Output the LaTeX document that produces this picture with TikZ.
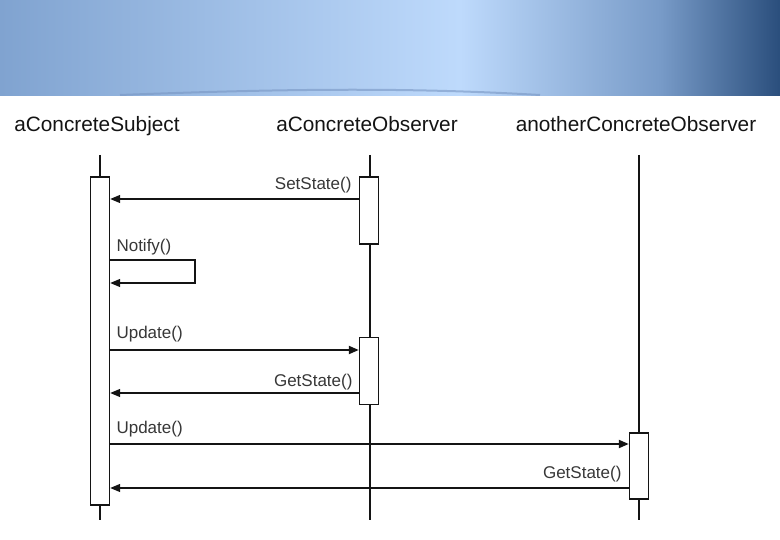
\documentclass[tikz,border=0pt]{standalone}
\usepackage{fontspec}
\setmainfont{Liberation Sans}
\usepackage{xcolor}
\usetikzlibrary{arrows.meta, positioning}
\definecolor{headleft}{RGB}{128,163,208}
\definecolor{headmid}{RGB}{190,218,252}
\definecolor{headblue}{RGB}{120,155,200}
\definecolor{headright}{RGB}{42,78,124}
\definecolor{headcurve}{RGB}{120,150,195}
\definecolor{labelgray}{RGB}{55,55,55}
\definecolor{linegray}{RGB}{20,20,20}

\begin{document}
\begin{tikzpicture}[x=1pt, y=-1pt, >={Triangle[length=10pt,width=8pt]},
  every node/.style={font=\fontsize{17}{20}\selectfont, text=labelgray},
  title/.style={font=\fontsize{20.8}{24}\selectfont, text=linegray, anchor=base},
  lifeline/.style={draw=linegray, line width=1.2pt},
  actbox/.style={rectangle, draw=linegray, fill=white, line width=1.4pt, minimum width=19pt, inner sep=0pt},
  msg/.style={draw=linegray, line width=1.3pt},
  callmsg/.style={draw=linegray, line width=2pt}]
\useasboundingbox (0,0) rectangle (780,540);

% Header band
\shade[left color=headleft, right color=headmid] (0,0) rectangle (460,96);
\shade[left color=headmid, right color=headblue] (460,0) rectangle (660,96);
\shade[left color=headblue, right color=headright] (660,0) rectangle (780,96);
\draw[headcurve, line width=2pt, opacity=0.6] (120,95) .. controls (300,88) and (420,88) .. (540,95);

% Object titles
\node[title] at (97,132) (subj) {aConcreteSubject};
\node[title] at (367,132) (obs) {aConcreteObserver};
\node[title] at (636,132) (other) {anotherConcreteObserver};

% Lifelines
\coordinate (subjtop) at (100,155);
\coordinate (subjbot) at (100,520);
\coordinate (obstop) at (370,155);
\coordinate (obsbot) at (370,520);
\coordinate (othertop) at (639,155);
\coordinate (otherbot) at (639,520);
\draw[lifeline] (subjtop) -- (subjbot);
\draw[lifeline] (obstop) -- (obsbot);
\draw[lifeline] (othertop) -- (otherbot);

% Activation boxes
\node[actbox, minimum height=328pt] at (100,341) (subjact) {};
\node[actbox, minimum height=67pt] at (369,210.5) (obsact1) {};
\node[actbox, minimum height=67pt] at (369,371) (obsact2) {};
\node[actbox, minimum height=66pt] at (639,466) (otheract) {};

% Message rows
\coordinate (m1) at (0,199);
\coordinate (m2) at (0,260);
\coordinate (m3) at (0,283);
\coordinate (m4) at (0,350);
\coordinate (m5) at (0,393);
\coordinate (m6) at (0,444);
\coordinate (m7) at (0,488);
\coordinate (selfright) at (195,0);

% Messages
\draw[msg,->] (obsact1.west |- m1) -- (subjact.east |- m1);
\node[anchor=base east] at (355,190) (setlbl) {SetState()};

\draw[msg,->] (subjact.east |- m2) -- (selfright |- m2) -- (selfright |- m3) -- (subjact.east |- m3);
\node[anchor=base west] at (113,252) (notifylbl) {Notify()};

\draw[callmsg,->] (subjact.east |- m4) -- (obsact2.west |- m4);
\node[anchor=base west] at (113,339) (upd1lbl) {Update()};

\draw[msg,->] (obsact2.west |- m5) -- (subjact.east |- m5);
\node[anchor=base east] at (356,386) (get1lbl) {GetState()};

\draw[callmsg,->] (subjact.east |- m6) -- (otheract.west |- m6);
\node[anchor=base west] at (113,433) (upd2lbl) {Update()};

\draw[msg,->] (otheract.west |- m7) -- (subjact.east |- m7);
\node[anchor=base east] at (625,478) (get2lbl) {GetState()};

\end{tikzpicture}
\end{document}
